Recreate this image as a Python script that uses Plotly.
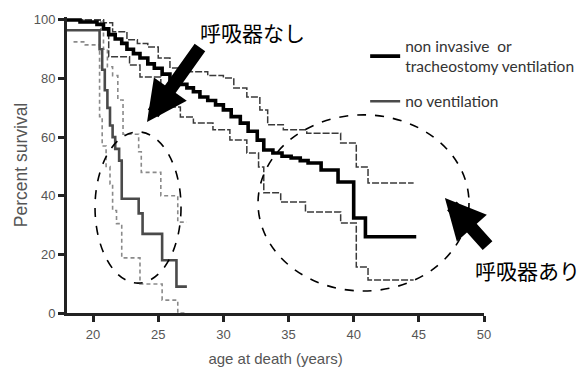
import plotly.graph_objects as go

# ---- data ----
vent_age = [18.0, 19.0, 20.3, 20.8, 21.2, 21.7, 22.2, 22.6, 23.1, 23.6, 24.2, 24.7, 25.3, 25.9,
            26.5, 27.2, 27.7, 28.2, 28.8, 29.4, 30.0, 30.6, 31.3, 31.9, 32.6, 33.1, 33.8, 34.5,
            35.2, 35.9, 36.5, 37.5, 38.8, 40.0, 40.9, 44.8]
vent_surv = [100, 99.3, 98.5, 97, 95, 93.5, 92, 90, 88.5, 87, 85, 83.5, 81.5, 79.5,
             78, 76.8, 75.5, 73.7, 72.5, 71, 69.3, 67, 64.8, 62, 59, 55.6, 54.6, 53.5,
             52.9, 52, 51.2, 48.8, 44.7, 32.4, 26, 26]

vent_up_age = [18, 20.8, 21.5, 22.6, 23.4, 24.2, 25.0, 25.9, 27.5, 28.8, 30.0, 30.8, 31.8,
               32.8, 33.4, 34.6, 36.4, 39.0, 40.2, 41.1, 44.6]
vent_up_surv = [100, 99, 96, 93.2, 92, 90.8, 87, 83.6, 82.3, 81, 80.2, 76.8, 73.7,
                69.3, 64.2, 62.5, 61.3, 58, 49.8, 44.4, 44.4]

vent_lo_age = [18, 20.8, 21.2, 22.8, 23.6, 25.2, 26.2, 26.7, 27.7, 29.2, 30.5, 31.8, 32.7,
               33.1, 34.4, 36.3, 39.0, 40.2, 41.1, 44.6]
vent_lo_surv = [100, 96.6, 87.4, 84.6, 80.5, 77.1, 70.3, 66.9, 64.8, 62.5, 59, 54.6, 49.8,
                41, 37.9, 34.5, 30.7, 15.7, 11.3, 11.3]

novent_age = [18, 20.5, 20.7, 20.9, 21.1, 21.3, 21.5, 21.7, 22.0, 22.2, 23.5, 23.8, 25.3, 26.4, 27.2]
novent_surv = [96.5, 90, 83, 76, 70, 64, 60, 56, 52, 39, 34, 27, 18, 9, 9]

novent_up_age = [18, 20.6, 20.8, 21.1, 21.5, 21.9, 22.3, 23.5, 23.7, 25.2, 26.5, 27.2]
novent_up_surv = [100, 96.5, 90, 84, 81, 72.7, 61, 55, 48, 40, 31, 31]

novent_lo_age = [18.5, 19.4, 20.5, 20.7, 21.0, 21.3, 21.5, 21.8, 22.2, 23.6, 25.3, 26.5, 27.2]
novent_lo_surv = [92.5, 91.5, 67, 57, 50, 44, 35, 30.5, 18.8, 9.9, 4.4, 0, 0]

x_ticks = [20, 25, 30, 35, 40, 45, 50]
y_ticks = [0, 20, 40, 60, 80, 100]

fig = go.Figure()

# CIs first
fig.add_trace(go.Scatter(x=novent_up_age, y=novent_up_surv, mode="lines", line_shape="hv",
                         line=dict(color="#8a8a8a", width=1.6, dash="4px,3px"), showlegend=False))
fig.add_trace(go.Scatter(x=novent_lo_age, y=novent_lo_surv, mode="lines", line_shape="hv",
                         line=dict(color="#8a8a8a", width=1.6, dash="4px,3px"), showlegend=False))
fig.add_trace(go.Scatter(x=vent_up_age, y=vent_up_surv, mode="lines", line_shape="hv",
                         line=dict(color="#3a3a3a", width=1.5, dash="7px,2px"), showlegend=False))
fig.add_trace(go.Scatter(x=vent_lo_age, y=vent_lo_surv, mode="lines", line_shape="hv",
                         line=dict(color="#3a3a3a", width=1.5, dash="7px,2px"), showlegend=False))
# medians
fig.add_trace(go.Scatter(x=vent_age, y=vent_surv, mode="lines", line_shape="hv",
                         line=dict(color="#000000", width=3.6), legendgroup="vent",
                         name="non invasive  or<br>tracheostomy ventilation"))
fig.add_trace(go.Scatter(x=novent_age, y=novent_surv, mode="lines", line_shape="hv",
                         line=dict(color="#4a4a4a", width=2.6), name="no ventilation",
                         legendgroup="novent"))

tick_font = dict(family="Liberation Sans, Arial, sans-serif", size=13, color="#555555")
xtitle_font = dict(family="Liberation Sans, Arial, sans-serif", size=15, color="#555555")
ytitle_font = dict(family="Liberation Sans, Arial, sans-serif", size=17.5, color="#555555")

fig.update_layout(
    width=584, height=367,
    margin=dict(l=67, r=100, t=17, b=54, autoexpand=False),
    paper_bgcolor="white", plot_bgcolor="white",
    showlegend=True,
    legend=dict(x=0.715, y=0.958, xanchor="left", yanchor="top", traceorder="grouped",
                font=dict(family="Lato, sans-serif", size=15.5, color="#333333"),
                bgcolor="rgba(0,0,0,0)", itemwidth=30, tracegroupgap=12),
    xaxis=dict(range=[18, 50], tickvals=x_ticks, showline=True, linewidth=3, linecolor="#222222",
               ticks="outside", ticklen=6, tickwidth=2.5, tickcolor="#222222", automargin=False,
               tickfont=tick_font, showgrid=False, zeroline=False, ticklabelstandoff=1,
               title=dict(text="age at death (years)", font=xtitle_font, standoff=14)),
    yaxis=dict(range=[0, 101], tickvals=y_ticks, showline=True, linewidth=3, linecolor="#222222",
               ticks="outside", ticklen=6, tickwidth=2.5, tickcolor="#222222", automargin=False,
               tickfont=tick_font, showgrid=False, zeroline=False,
               title=dict(text="Percent survival", font=ytitle_font, standoff=2)),
)

# dashed ellipses
fig.add_shape(type="circle", xref="x", yref="y", x0=20.15, x1=26.75, y0=10.2, y1=61.8,
              line=dict(color="black", width=1.6, dash="dash"))
fig.add_shape(type="circle", xref="x", yref="y", x0=32.66, x1=48.85, y0=7.5, y1=67.6,
              line=dict(color="black", width=1.6, dash="dash"))

jp_font = dict(family="Noto Sans CJK JP, sans-serif", size=21, color="black")
fig.add_annotation(text="呼吸器なし", xref="paper", yref="paper", x=0.444, y=0.95,
                   showarrow=False, font=jp_font, xanchor="center", yanchor="middle")
fig.add_annotation(text="呼吸器あり", xref="paper", yref="paper", x=1.105, y=0.145,
                   showarrow=False, font=jp_font, xanchor="center", yanchor="middle")

# arrows
fig.add_annotation(x=24.14, y=65.2, xref="x", yref="y", text="", showarrow=True,
                   ax=54, ay=-76, arrowhead=2, arrowwidth=13, arrowsize=0.62, arrowcolor="black")
fig.add_annotation(x=47.0, y=39.2, xref="x", yref="y", text="", showarrow=True,
                   ax=44, ay=49, arrowhead=2, arrowwidth=13, arrowsize=0.62, arrowcolor="black")

fig.write_html("out.html")
